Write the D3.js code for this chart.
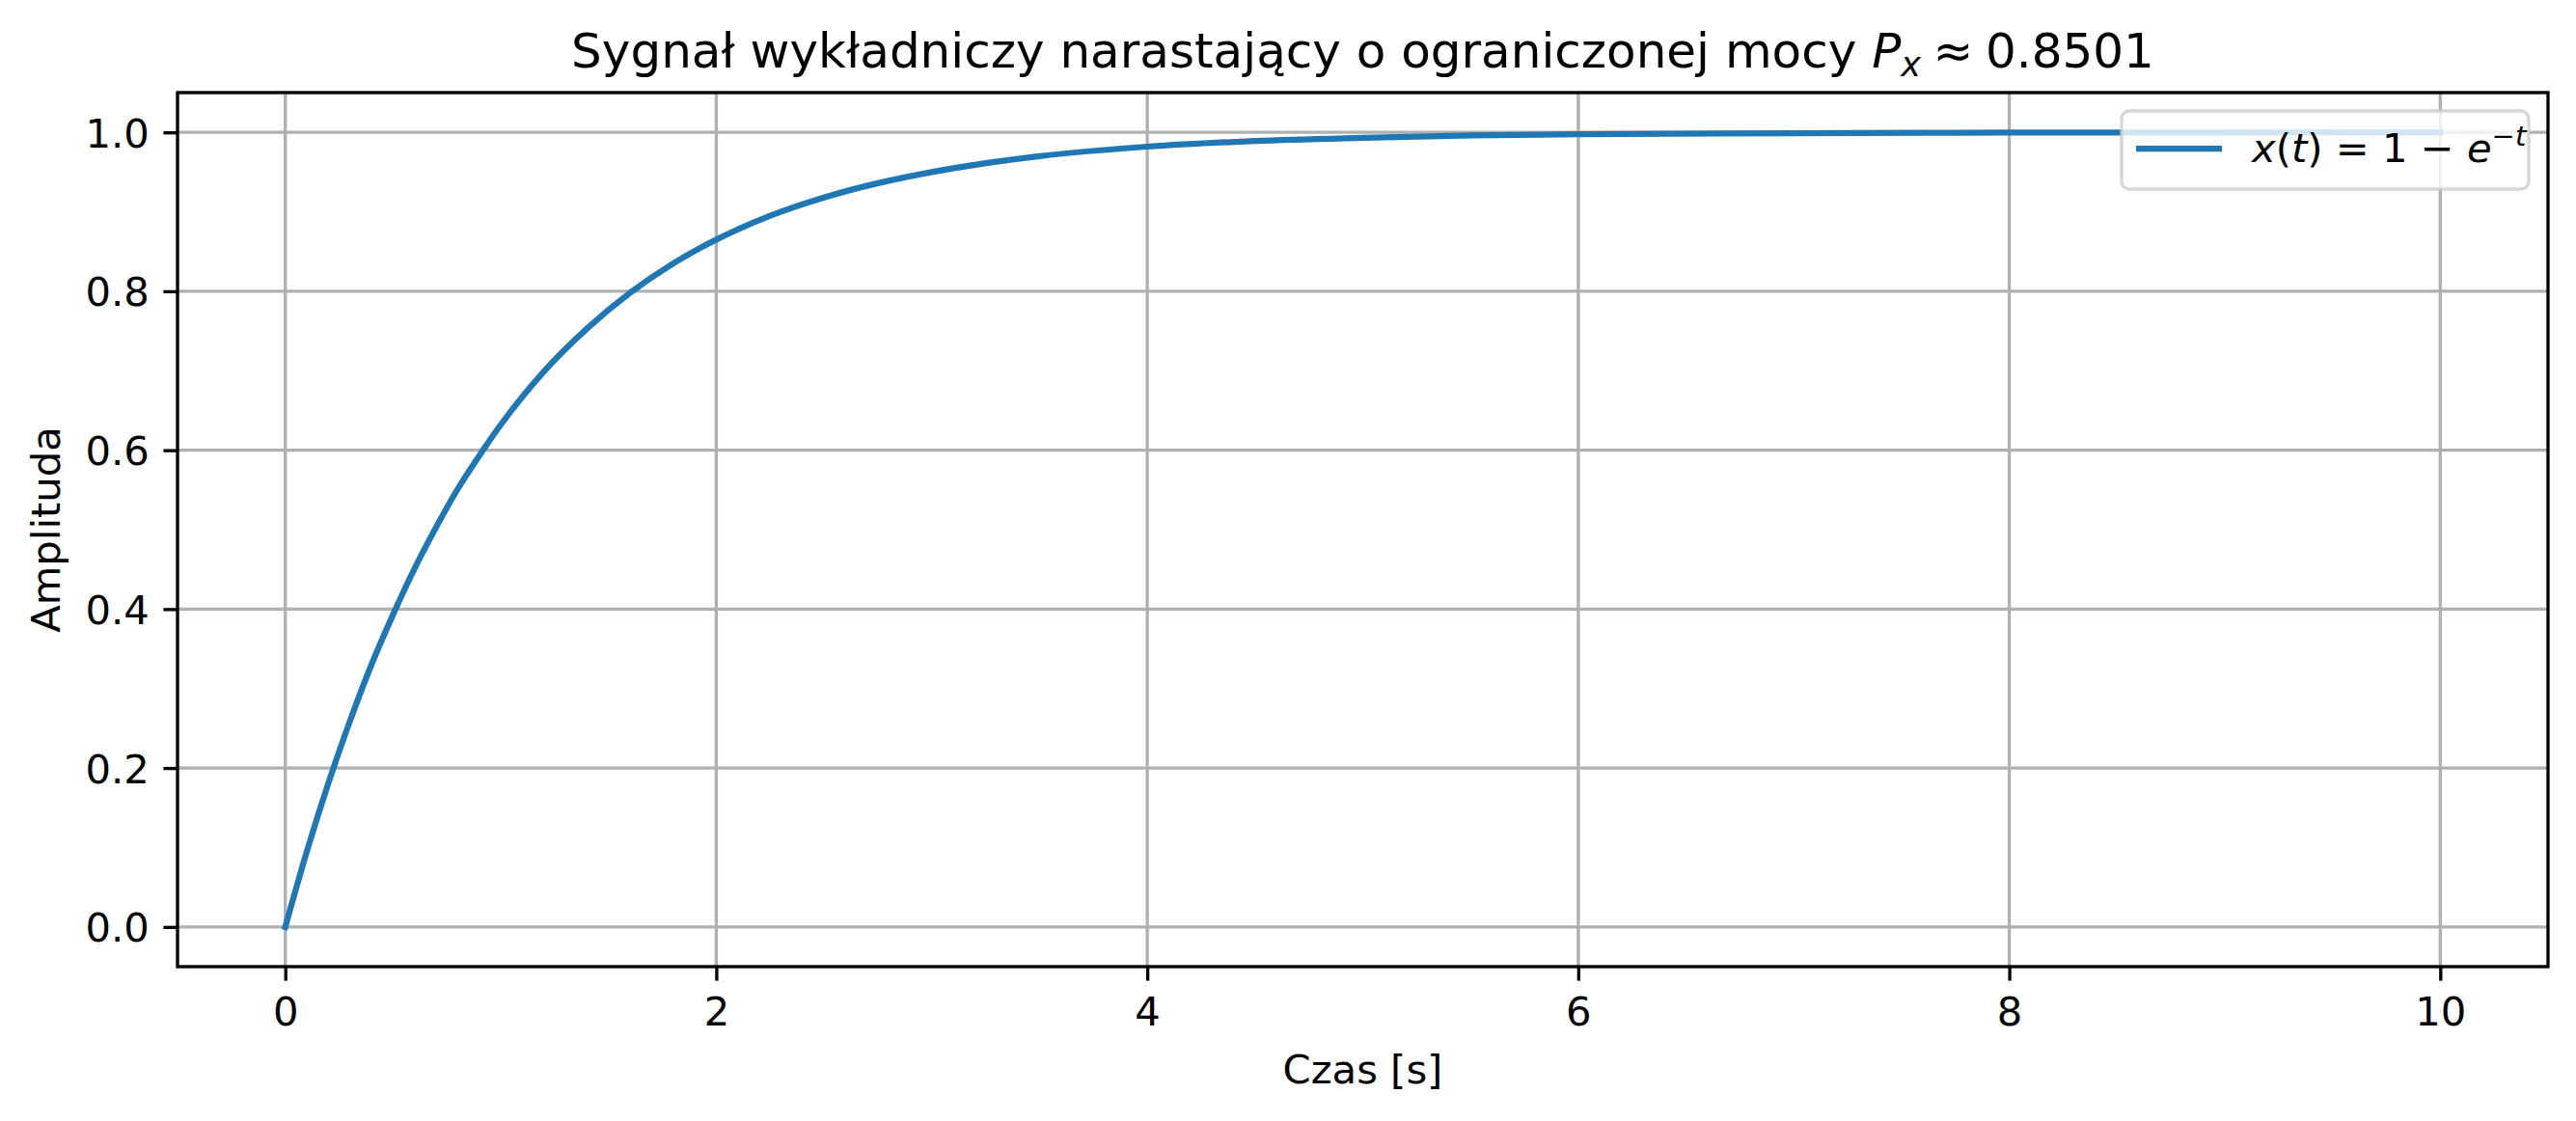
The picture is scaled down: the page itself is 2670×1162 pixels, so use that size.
<!DOCTYPE html>
<html>
<head>
<meta charset="utf-8">
<script src="https://cdn.jsdelivr.net/npm/d3@7"></script>
<style>
  body { margin: 0; background: #fff; }
  text { font-family: "DejaVu Sans", sans-serif; fill: #000; }
</style>
</head>
<body>
<div id="chart"></div>
<script>
// values
var czas = [0, 0.1, 0.2, 0.3, 0.4, 0.5, 0.6, 0.7, 0.8, 0.9, 1.0, 1.2, 1.4, 1.6, 1.8, 2.0,
            2.25, 2.5, 2.75, 3.0, 3.5, 4.0, 4.5, 5.0, 5.5, 6.0, 7.0, 8.0, 9.0, 10.0];
var amplituda = [0, 0.095, 0.181, 0.259, 0.330, 0.393, 0.451, 0.503, 0.551, 0.593, 0.632,
                 0.699, 0.753, 0.798, 0.835, 0.865, 0.895, 0.918, 0.936, 0.950, 0.970,
                 0.982, 0.989, 0.993, 0.996, 0.9975, 0.999, 0.9997, 0.9999, 1.0];
var xTicks = [0, 2, 4, 6, 8, 10];
var yTicks = [0.0, 0.2, 0.4, 0.6, 0.8, 1.0];
var xDomain = [-0.5, 10.5];
var yDomain = [-0.05, 1.05];

var W = 2670, H = 1162;
var m = {l: 184, r: 2641, t: 96, b: 1002};
var lw = 3.33, fs = 41.7;

var svg = d3.select("#chart").append("svg")
    .attr("width", W).attr("height", H);
svg.append("rect").attr("width", W).attr("height", H).attr("fill", "#fff");

var x = d3.scaleLinear().domain(xDomain).range([m.l, m.r]);
var y = d3.scaleLinear().domain(yDomain).range([m.b, m.t]);

// grid
var grid = svg.append("g").attr("class", "grid");
grid.selectAll(".gx").data(xTicks).enter().append("line")
    .attr("x1", function(d){ return x(d); }).attr("x2", function(d){ return x(d); })
    .attr("y1", m.t).attr("y2", m.b)
    .attr("stroke", "#b0b0b0").attr("stroke-width", lw);
grid.selectAll(".gy").data(yTicks).enter().append("line")
    .attr("y1", function(d){ return y(d); }).attr("y2", function(d){ return y(d); })
    .attr("x1", m.l).attr("x2", m.r)
    .attr("stroke", "#b0b0b0").attr("stroke-width", lw);

// curve
svg.append("clipPath").attr("id", "clip").append("rect")
    .attr("x", m.l).attr("y", m.t).attr("width", m.r - m.l).attr("height", m.b - m.t);

var line = d3.line()
    .x(function(d, i){ return x(czas[i]); })
    .y(function(d){ return y(d); })
    .curve(d3.curveMonotoneX);

svg.append("path").datum(amplituda)
    .attr("clip-path", "url(#clip)")
    .attr("d", line)
    .attr("fill", "none").attr("stroke", "#1f77b4")
    .attr("stroke-width", 6.25).attr("stroke-linecap", "square");

// axes
var xAxis = d3.axisBottom(x).tickValues(xTicks).tickFormat(d3.format("d"))
    .tickSizeInner(14.6).tickSizeOuter(0).tickPadding(14.6);
var yAxis = d3.axisLeft(y).tickValues(yTicks).tickFormat(d3.format(".1f"))
    .tickSizeInner(14.6).tickSizeOuter(0).tickPadding(14.6);

var gx = svg.append("g").attr("transform", "translate(0," + m.b + ")").call(xAxis);
var gy = svg.append("g").attr("transform", "translate(" + m.l + ",0)").call(yAxis);
[gx, gy].forEach(function(g){
    g.select(".domain").remove();
    g.selectAll("line").attr("stroke", "#000").attr("stroke-width", lw);
    g.selectAll("text").style("font-family", "DejaVu Sans").style("font-size", fs + "px");
});
gx.selectAll("text").attr("dy", null).attr("y", 1063 - m.b);
gy.selectAll("text").attr("dy", "0.36em");

// frame
svg.append("rect")
    .attr("x", m.l).attr("y", m.t).attr("width", m.r - m.l).attr("height", m.b - m.t)
    .attr("fill", "none").attr("stroke", "#000").attr("stroke-width", lw)
    .attr("stroke-linecap", "square");

// labels
svg.append("text").attr("x", (m.l + m.r) / 2).attr("y", 1123)
    .attr("text-anchor", "middle").style("font-size", fs + "px").text("Czas [s]");

svg.append("text").attr("transform", "translate(62," + (m.t + m.b) / 2 + ") rotate(-90)")
    .attr("text-anchor", "middle").style("font-size", fs + "px").text("Amplituda");

var title = svg.append("text").attr("x", (m.l + m.r) / 2).attr("y", 70)
    .attr("text-anchor", "middle").style("font-size", "50px");
title.append("tspan").text("Sygnał wykładniczy narastający o ograniczonej mocy ");
title.append("tspan").style("font-style", "italic").text("P");
title.append("tspan").style("font-style", "italic").style("font-size", "35px")
    .attr("dy", 9).text("x");
title.append("tspan").attr("dy", -9).text("\u2005≈\u20050.8501");

// legend
var leg = svg.append("g");
leg.append("rect")
    .attr("x", 2199).attr("y", 115).attr("width", 422).attr("height", 81)
    .attr("rx", 8).attr("ry", 8)
    .attr("fill", "rgba(255,255,255,0.8)")
    .attr("stroke", "rgba(204,204,204,0.8)").attr("stroke-width", lw);
leg.append("line")
    .attr("x1", 2214).attr("x2", 2303).attr("y1", 154).attr("y2", 154)
    .attr("stroke", "#1f77b4").attr("stroke-width", 6.25);
var lt = leg.append("text").attr("x", 2334).attr("y", 168).style("font-size", fs + "px");
lt.append("tspan").style("font-style", "italic").text("x");
lt.append("tspan").text("(");
lt.append("tspan").style("font-style", "italic").text("t");
lt.append("tspan").text(") = 1 − ");
lt.append("tspan").style("font-style", "italic").text("e");
lt.append("tspan").attr("dy", -17).style("font-size", "29px").text("−");
lt.append("tspan").style("font-style", "italic").style("font-size", "29px").text("t");
</script>
</body>
</html>
